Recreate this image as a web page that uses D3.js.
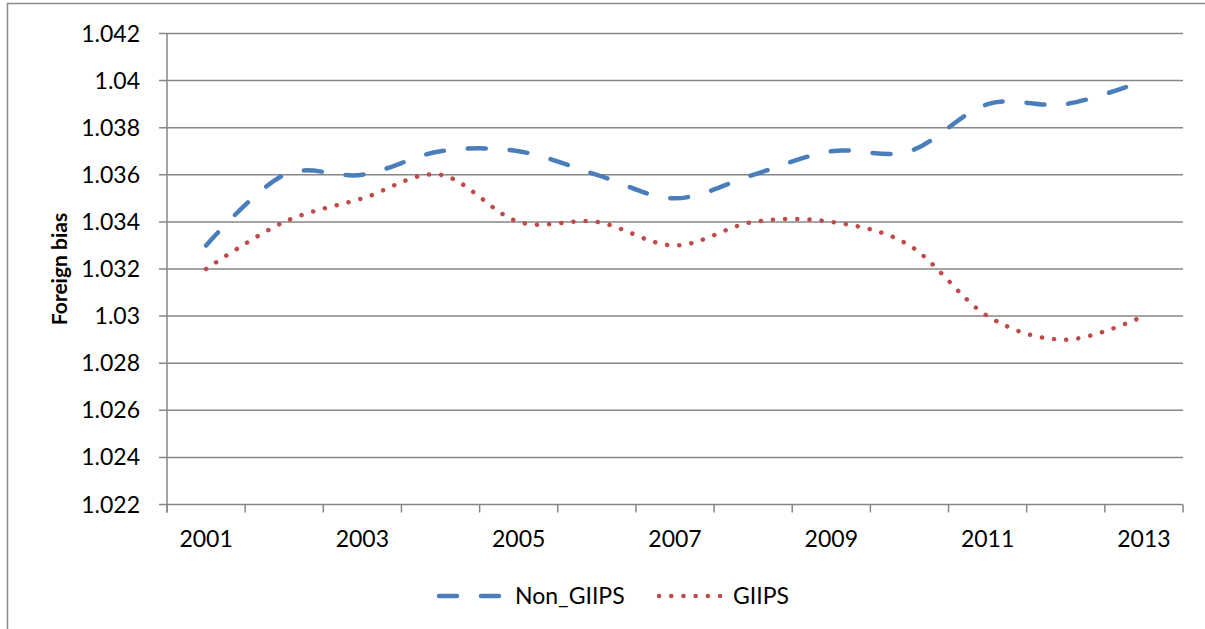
<!DOCTYPE html>
<html><head><meta charset="utf-8">
<script src="https://cdn.jsdelivr.net/npm/d3@7"></script>
<style>body{margin:0;background:#fff}svg{display:block}</style>
</head><body>
<script>
const years = ["2001","2002","2003","2004","2005","2006","2007","2008","2009","2010","2011","2012","2013"];
const nonGIIPS = [1.033,1.036,1.036,1.037,1.037,1.036,1.035,1.036,1.037,1.037,1.039,1.039,1.040];
const GIIPS = [1.032,1.034,1.035,1.036,1.034,1.034,1.033,1.034,1.034,1.033,1.030,1.029,1.030];
const yTicks = [1.022,1.024,1.026,1.028,1.03,1.032,1.034,1.036,1.038,1.04,1.042];
const xLabels = ["2001","2003","2005","2007","2009","2011","2013"];
const seriesNames = ["Non_GIIPS","GIIPS"];

const W=1205,H=629;
const svg=d3.select("body").append("svg").attr("width",W).attr("height",H);
const font="Lato, 'Open Sans', sans-serif";
// chart border
svg.append("rect").attr("x",7.5).attr("y",3.5).attr("width",W+10).attr("height",H+10)
  .attr("fill","none").attr("stroke","#8c8c8c").attr("stroke-width",1.5);

const L=167,R=1183,T=33.5,B=504.5;
const x=d3.scaleBand().domain(years).range([L,R]).padding(0);
const y=d3.scaleLinear().domain([1.022,1.042]).range([B,T]);
const gridC="#868686";

// gridlines
svg.append("g").selectAll("line").data(yTicks).join("line")
  .attr("x1",L-8).attr("x2",R).attr("y1",d=>y(d)).attr("y2",d=>y(d))
  .attr("stroke",gridC).attr("stroke-width",1.5);
// y axis line
svg.append("line").attr("x1",L).attr("x2",L).attr("y1",T).attr("y2",B+8).attr("stroke",gridC).attr("stroke-width",1.5);
// x tick marks at category boundaries
const bounds=years.map(d=>x(d)).concat([R]);
svg.append("g").selectAll("line").data(bounds).join("line")
  .attr("x1",d=>d).attr("x2",d=>d).attr("y1",B).attr("y2",B+8)
  .attr("stroke",gridC).attr("stroke-width",1.5);

// y labels
svg.append("g").selectAll("text").data(yTicks).join("text")
  .attr("x",L-27).attr("y",d=>y(d)).attr("dy","0.35em").attr("text-anchor","end")
  .attr("font-family",font).attr("font-size",23).attr("fill","#000")
  .text(d=>String(+d.toFixed(3)));
// x labels
svg.append("g").selectAll("text").data(xLabels).join("text")
  .attr("x",d=>x(d)+x.bandwidth()/2).attr("y",547).attr("text-anchor","middle")
  .attr("font-family",font).attr("font-size",23).attr("fill","#000").text(d=>d);
// y title
svg.append("text").attr("transform","translate(67,269) rotate(-90)").attr("text-anchor","middle")
  .attr("font-family",font).attr("font-size",21).attr("font-weight","bold").text("Foreign bias");

const line=d3.line().x((d,i)=>x(years[i])+x.bandwidth()/2).y(d=>y(d)).curve(d3.curveCatmullRom.alpha(0));
const styles=[
  {data:nonGIIPS,color:"#4a7ebb",dash:"18,24"},
  {data:GIIPS,color:"#be4b48",dash:"0.1,12.1"}
];
styles.forEach(s=>{
  svg.append("path").attr("d",line(s.data)).attr("fill","none").attr("stroke",s.color)
    .attr("stroke-width",4.5).attr("stroke-linecap","round").attr("stroke-dasharray",s.dash);
});

// legend
const lg=[{x1:439,x2:500,tx:515},{x1:659,x2:724,tx:733}];
seriesNames.forEach((n,i)=>{
  const s=styles[i];
  svg.append("line").attr("x1",lg[i].x1).attr("x2",lg[i].x2).attr("y1",596).attr("y2",596)
    .attr("stroke",s.color).attr("stroke-width",4.5).attr("stroke-linecap","round").attr("stroke-dasharray",s.dash);
  svg.append("text").attr("x",lg[i].tx).attr("y",596).attr("dy","0.35em")
    .attr("font-family",font).attr("font-size",23).text(n);
});
</script>
</body></html>
